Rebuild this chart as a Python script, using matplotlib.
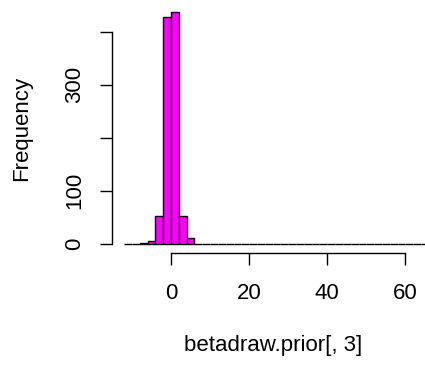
import matplotlib
matplotlib.use('Agg')
import matplotlib.pyplot as plt
import numpy as np

# histogram of betadraw.prior[, 3] : bin edges (width 2) and counts
breaks = np.arange(-12, 68, 2)
counts = [0, 0, 2, 5, 53, 428, 437, 53, 10] + [0] * (len(breaks) - 1 - 9)
xticks = [0, 20, 40, 60]
yticks = [0, 100, 200, 300, 400]
ytick_labels = ['0', '100', '', '300', '']

plt.rcParams['font.family'] = ['Liberation Sans', 'DejaVu Sans']
W, H = 425, 367
fig = plt.figure(figsize=(W / 100, H / 100), dpi=100)
# plot region in pixels: x 112..441, y 3..253 (runs past right edge like the original)
ax = fig.add_axes([112 / W, 1 - 253 / H, 329 / W, 250 / H])

ax.bar(breaks[:-1], counts, width=2, align='edge', color='#ff00ff',
       edgecolor='black', linewidth=1.0)

rng = breaks[-1] - breaks[0]
ax.set_xlim(breaks[0] - 0.04 * rng, breaks[-1] + 0.04 * rng)
ymax = max(counts)
ax.set_ylim(-0.04 * ymax, ymax * 1.04)

for s in ['top', 'right']:
    ax.spines[s].set_visible(False)
ax.spines['bottom'].set_bounds(xticks[0], xticks[-1])
ax.spines['left'].set_bounds(yticks[0], yticks[-1])
for s in ['bottom', 'left']:
    ax.spines[s].set_linewidth(1.0)

ax.set_xticks(xticks)
ax.set_xticklabels([str(t) for t in xticks])
ax.set_yticks(yticks)
ax.set_yticklabels(ytick_labels, rotation=90, va='center')
ax.tick_params(axis='both', direction='out', length=8.5, width=1.0,
               labelsize=16, colors='black')
ax.tick_params(axis='x', pad=13)
ax.tick_params(axis='y', pad=11)

fig.text(22 / W, 1 - 128 / H, 'Frequency', rotation=90, ha='center', va='center', fontsize=16)
fig.text(273 / W, 1 - 346 / H, 'betadraw.prior[, 3]', ha='center', va='center', fontsize=16)

fig.savefig('out.png', dpi=100)
